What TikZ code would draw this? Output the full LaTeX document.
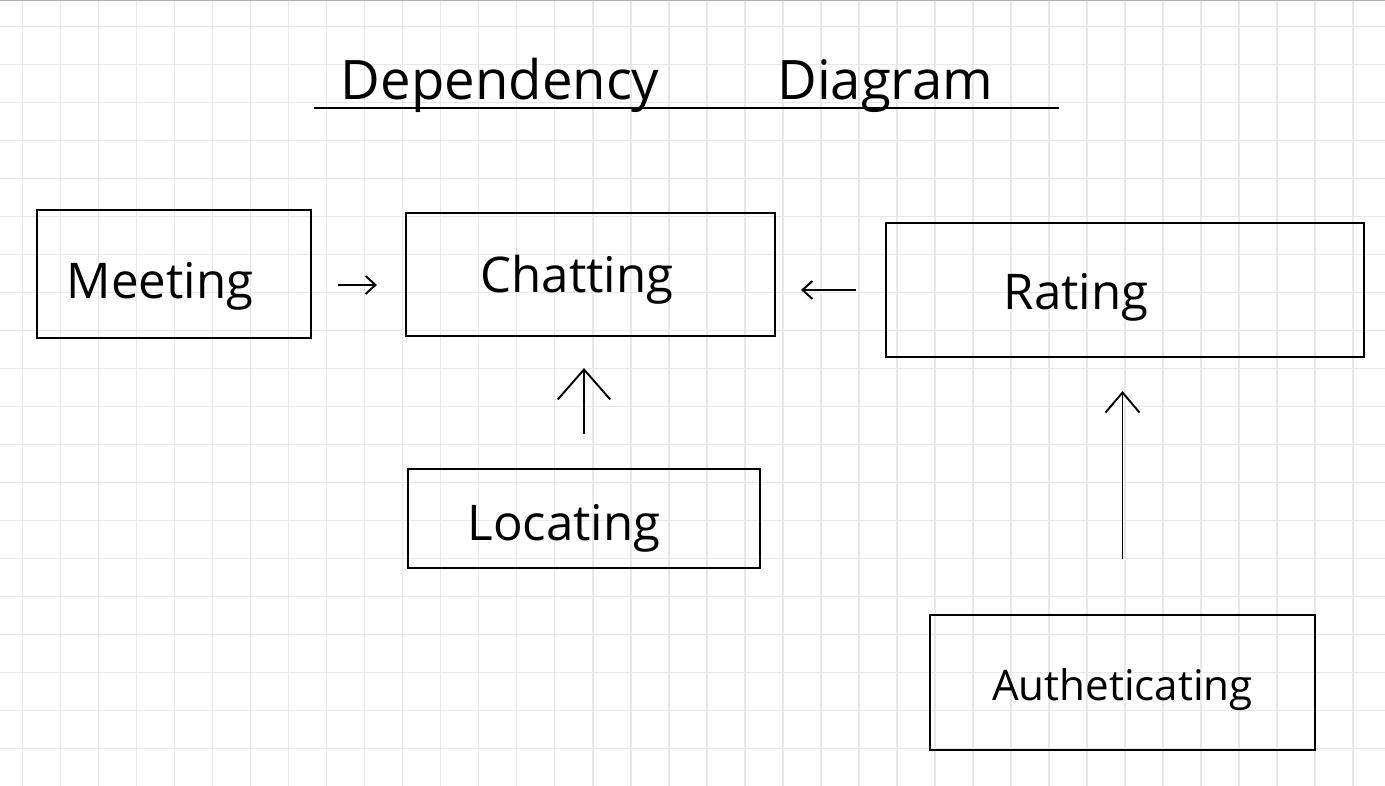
\documentclass[tikz,border=0pt]{standalone}
\usepackage{fontspec}
\setmainfont{Open Sans}
\usepackage{tikz}
\usetikzlibrary{arrows.meta}

\tikzset{
	box/.style={draw,line width=1.2pt,inner sep=0pt},
	lbl/.style={font=\fontsize{28}{30}\selectfont},
	arrsmall/.style={line width=1.1pt,-{Straight Barb[length=0.2cm,width=0.36cm]}},
	arrbig/.style={line width=1.1pt,-{Straight Barb[length=0.6cm,width=1.05cm]}},
}

\begin{document}
\begin{tikzpicture}[x=0.02cm,y=-0.02cm]
	\useasboundingbox (0,0) rectangle (1385,786);
	\foreach \i in {0,...,35}
		\draw [gray!18,line width=0.9pt] (22.7+38*\i,0) -- (22.7+38*\i,786);
	\foreach \j in {0,...,20}
		\draw [gray!18,line width=0.9pt] (0,26.5+38*\j) -- (1385,26.5+38*\j);
	\draw [gray!60,line width=0.6pt] (0,0.5) -- (1385,0.5);
	\node [anchor=base,font=\fontsize{31}{33}\selectfont] (title) at (667,100) {Dependency\hspace{2.36cm}Diagram};
	\draw [line width=1.6pt] (314,108) -- (1059,108);
	\node [box,minimum width=5.48cm,minimum height=2.56cm,label={[lbl,xshift=-0.28cm,yshift=-0.25cm]center:Meeting}] (meeting) at (174,274) {};
	\node [box,minimum width=7.38cm,minimum height=2.46cm,label={[lbl,xshift=-0.27cm,yshift=-0.11cm]center:Chatting}] (chatting) at (590.5,274.5) {};
	\node [box,minimum width=9.56cm,minimum height=2.68cm,label={[lbl,xshift=-0.98cm,yshift=-0.15cm]center:Rating}] (rating) at (1125,290) {};
	\node [box,minimum width=7.04cm,minimum height=1.98cm,label={[lbl,xshift=-0.4cm,yshift=-0.19cm]center:Locating}] (locating) at (584,518.5) {};
	\node [box,minimum width=7.7cm,minimum height=2.7cm,label={[lbl,font=\fontsize{24}{26}\selectfont,yshift=-0.15cm]center:Autheticating}] (auth) at (1122.5,682.5) {};
	\draw [arrsmall,shorten <=0.52cm,shorten >=0.56cm] ([yshift=-0.22cm]meeting.east) -- ([yshift=-0.22cm]meeting.east -| chatting.west);
	\draw [arrsmall,shorten <=0.58cm,shorten >=0.5cm] (rating.west) -- (chatting.east |- rating.west);
	\draw [arrbig,shorten <=0.68cm,shorten >=0.62cm] (locating.north) -- (chatting.south -| locating.north);
	\draw [arrbig,-{Straight Barb[length=0.4cm,width=0.68cm]},shorten <=1.1cm,shorten >=0.66cm] (auth.north) -- (rating.south -| auth.north);
\end{tikzpicture}
\end{document}
